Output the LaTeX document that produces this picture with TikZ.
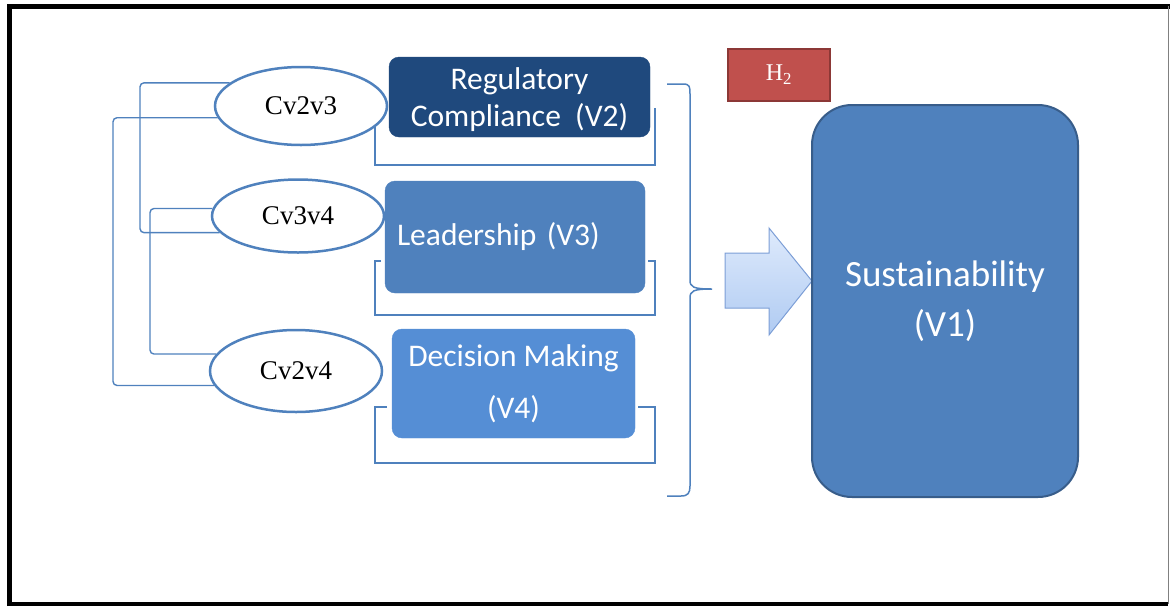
\documentclass[tikz,border=0pt]{standalone}
\usepackage{fontspec}
\setmainfont{Liberation Serif}
\newfontfamily\calibri{Carlito}
\usetikzlibrary{shapes.geometric}

\definecolor{linkblue}{RGB}{79,129,189}
\definecolor{navy}{RGB}{31,73,125}
\definecolor{midblue}{RGB}{79,129,189}
\definecolor{lightblue}{RGB}{85,142,213}
\definecolor{rimblue}{RGB}{56,93,138}
\definecolor{brick}{RGB}{192,80,77}
\definecolor{brickline}{RGB}{140,56,54}
\definecolor{arrowtop}{RGB}{222,234,252}
\definecolor{arrowbot}{RGB}{176,203,242}
\definecolor{arrowline}{RGB}{124,158,214}

\newcommand\covfont{\fontsize{27}{30}\selectfont}
\newcommand\varfont{\calibri\fontsize{31.5}{37}\selectfont}

\begin{document}
\begin{tikzpicture}[x=1pt,y=-1pt,
    cov/.style={ellipse, draw=linkblue, line width=2.5pt, fill=white,
        minimum width=172pt, inner sep=0pt, font=\covfont},
    var/.style={rounded corners=10pt, text=white, align=center,
        inner sep=0pt, font=\varfont},
    link/.style={draw=linkblue, line width=1.4pt, rounded corners=4pt},
    bracket/.style={draw=linkblue, line width=2.5pt},
]
\useasboundingbox (0,0) rectangle (1170,606);

\draw[line width=5pt] (9.5,606) -- (9.5,6.5) -- (1170,6.5);
\draw[line width=4pt] (7,604) -- (1168,604);
\draw[gray, line width=1.5pt] (1168.5,6) -- (1168.5,604);

\coordinate (bus1) at (140,0);
\coordinate (bus2) at (113,0);
\coordinate (bus3) at (150,0);

% brackets under the variables
\draw[bracket] (375,127) -- (375,165) -- (655,165) -- (655,108);
\draw[bracket] (381,261) -- (375,261) -- (375,315) -- (655,315) -- (655,261) -- (648,261);
\draw[bracket] (387,407) -- (375,407) -- (375,463) -- (655,463) -- (655,407) -- (638,407);

\node[cov, minimum height=78pt] (c23) at (301,106) {Cv2v3};
\node[cov, minimum height=73pt] (c34) at (298,216) {Cv3v4};
\node[cov, minimum height=82pt] (c24) at (296,371) {Cv2v4};

\draw[link] (c23.162) -| (bus1 |- c34.192) -- (c34.192);
\draw[link] (c23.188) -| (bus2 |- c24.190) -- (c24.190);
\draw[link] (c34.175) -| (bus3 |- c24.168) -- (c24.168);

\node[var, fill=navy, draw=navy, minimum width=261pt, minimum height=80pt,
    text depth=0pt] (v2) at (519.5,97) {Regulatory\\Compliance~~(V2)};
\node[var, fill=midblue, draw=midblue, minimum width=260pt, minimum height=112pt,
    text width=236pt, align=left] (v3) at (515,237) {Leadership (V3)};
\node[var, fill=lightblue, draw=lightblue, minimum width=243pt, minimum height=109pt,
    font=\calibri\fontsize{31.5}{52}\selectfont] (v4) at (513.5,383.5) {Decision Making\\(V4)};

\draw[linkblue, line width=1.5pt] (667,84) -- (683,84) .. controls (690,84) and (690,87) .. (690,94)
    -- (690,280) .. controls (690,287) and (693,289) .. (712,289)
    .. controls (693,289) and (690,291) .. (690,298)
    -- (690,486) .. controls (690,493) and (688,496) .. (681,496) -- (667,496);

\draw[arrowline, line width=1pt, top color=arrowtop, bottom color=arrowbot]
    (725,253) -- (769,253) -- (769,228) -- (812,281) -- (769,335) -- (769,308) -- (725,308) -- cycle;

\node[fill=brick, draw=brickline, line width=2pt, minimum width=102pt, minimum height=52pt,
    inner sep=0pt, text=white, font=\fontsize{24}{28}\selectfont] (h2) at (779,75) {H\textsubscript{2}};

\node[fill=midblue, draw=rimblue, line width=2pt, rounded corners=40pt, minimum width=266pt,
    minimum height=392pt, inner sep=0pt, text=white, align=center,
    font=\calibri\fontsize{37}{50}\selectfont] (v1) at (945,301) {Sustainability\\(V1)};
\end{tikzpicture}
\end{document}
